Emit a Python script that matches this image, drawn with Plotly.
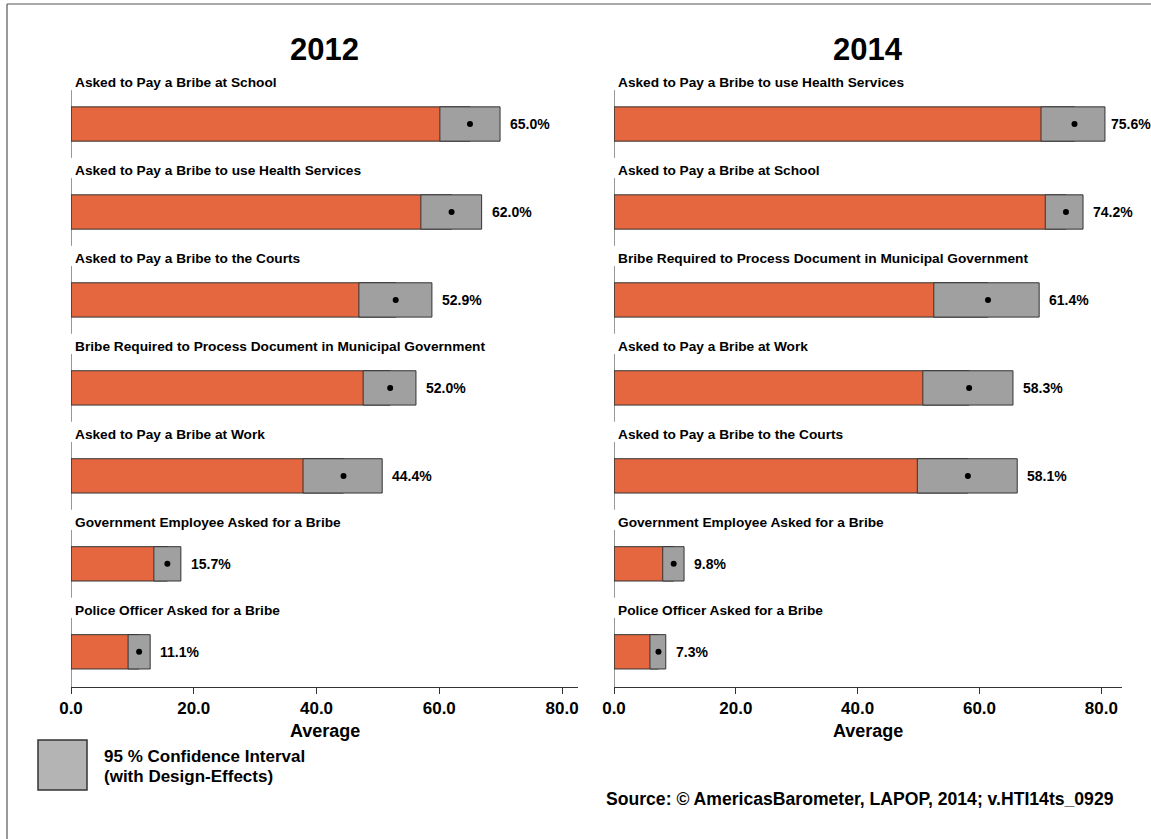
import plotly.graph_objects as go

W, H = 1151, 839

# ---------------- data ----------------
labels_2012 = [
    "Asked to Pay a Bribe at School",
    "Asked to Pay a Bribe to use Health Services",
    "Asked to Pay a Bribe to the Courts",
    "Bribe Required to Process Document in Municipal Government",
    "Asked to Pay a Bribe at Work",
    "Government Employee Asked for a Bribe",
    "Police Officer Asked for a Bribe",
]
mean_2012 = [65.0, 62.0, 52.9, 52.0, 44.4, 15.7, 11.1]
lower_2012 = [60.1, 57.0, 46.9, 47.6, 37.8, 13.5, 9.3]
upper_2012 = [69.9, 66.9, 58.8, 56.2, 50.7, 17.9, 12.9]

labels_2014 = [
    "Asked to Pay a Bribe to use Health Services",
    "Asked to Pay a Bribe at School",
    "Bribe Required to Process Document in Municipal Government",
    "Asked to Pay a Bribe at Work",
    "Asked to Pay a Bribe to the Courts",
    "Government Employee Asked for a Bribe",
    "Police Officer Asked for a Bribe",
]
mean_2014 = [75.6, 74.2, 61.4, 58.3, 58.1, 9.8, 7.3]
lower_2014 = [70.1, 70.8, 52.5, 50.7, 49.8, 8.0, 5.9]
upper_2014 = [80.6, 77.0, 69.8, 65.5, 66.2, 11.5, 8.5]

tick_vals = [0, 20, 40, 60, 80]
tick_text = ["0.0", "20.0", "40.0", "60.0", "80.0"]
panel_titles = ["2012", "2014"]
axis_title = "Average"
legend_lines = ["95 % Confidence Interval", "(with Design-Effects)"]
source_text = "Source: \u00a9 AmericasBarometer, LAPOP, 2014; v.HTI14ts_0929"

# ---------------- style ----------------
ORANGE = "#E5673F"
CI_GRAY = "#A0A0A0"
LEG_GRAY = "#B4B4B4"
EDGE = "#333333"
FONT = "Liberation Sans, Arial, sans-serif"
BAR_W = 0.39
VAL_SIZE = 14
VAL_W_EST = 2.835 * VAL_SIZE  # approx width of a "nn.n%" label in px


def px(x):
    return x / W


def py(y):
    return 1 - y / H


panels = [
    dict(labels=labels_2012, mean=mean_2012, lo=lower_2012, hi=upper_2012,
         xa="x", ya="y", pix=[71, 578], rng=[0, 82.6], title=panel_titles[0]),
    dict(labels=labels_2014, mean=mean_2014, lo=lower_2014, hi=upper_2014,
         xa="x2", ya="y2", pix=[614, 1122], rng=[0, 83.4], title=panel_titles[1]),
]

y_dom = [py(687), py(70)]
y_rng = [6.40, -0.614]

fig = go.Figure()
annotations = []
shapes = []

for p in panels:
    p["dom"] = [px(p["pix"][0]), px(p["pix"][1])]
    scale = (p["pix"][1] - p["pix"][0]) / (p["rng"][1] - p["rng"][0])
    n = len(p["labels"])
    rows = list(range(n))
    fig.add_trace(go.Bar(
        x=p["mean"], y=rows, base=0, orientation="h", width=BAR_W,
        marker=dict(color=ORANGE, line=dict(color=EDGE, width=1)),
        xaxis=p["xa"], yaxis=p["ya"], showlegend=False, hoverinfo="skip"))
    fig.add_trace(go.Bar(
        x=[h - l for h, l in zip(p["hi"], p["lo"])], y=rows, base=p["lo"],
        orientation="h", width=BAR_W,
        marker=dict(color=CI_GRAY, line=dict(color=EDGE, width=1)),
        xaxis=p["xa"], yaxis=p["ya"], showlegend=False, hoverinfo="skip"))
    fig.add_trace(go.Scatter(
        x=p["mean"], y=rows, mode="markers",
        marker=dict(color="black", size=6),
        xaxis=p["xa"], yaxis=p["ya"], showlegend=False, hoverinfo="skip"))

    for i in rows:
        annotations.append(dict(
            x=0, y=i - 0.475, xref=p["xa"], yref=p["ya"], xanchor="left",
            yanchor="middle", xshift=2, showarrow=False,
            text="<b>%s</b>" % p["labels"][i],
            font=dict(family=FONT, size=13.7, color="black")))
        # keep value label inside the page
        end_px = p["pix"][0] + p["hi"][i] * scale
        shift = min(8, W - 2 - end_px - VAL_W_EST)
        annotations.append(dict(
            x=p["hi"][i], y=i, xref=p["xa"], yref=p["ya"], xanchor="left",
            yanchor="middle", xshift=shift, showarrow=False,
            text="<b>%.1f%%</b>" % p["mean"][i],
            font=dict(family=FONT, size=VAL_SIZE, color="black")))
        y1 = y_rng[0] if i == n - 1 else i + 0.385
        shapes.append(dict(type="line", xref=p["xa"], yref=p["ya"],
                           x0=0, x1=0, y0=i - 0.385, y1=y1,
                           line=dict(color=EDGE, width=1)))

    cx = (p["dom"][0] + p["dom"][1]) / 2
    annotations.append(dict(
        x=cx, y=py(50), xref="paper", yref="paper", xanchor="center",
        yanchor="middle", showarrow=False, text="<b>%s</b>" % p["title"],
        font=dict(family=FONT, size=31, color="black")))
    annotations.append(dict(
        x=cx, y=py(731), xref="paper", yref="paper", xanchor="center",
        yanchor="middle", showarrow=False, text="<b>%s</b>" % axis_title,
        font=dict(family=FONT, size=18, color="black")))

# legend box
shapes.append(dict(type="rect", xref="paper", yref="paper",
                   x0=px(38), x1=px(87), y0=py(790), y1=py(740),
                   fillcolor=LEG_GRAY, line=dict(color=EDGE, width=1.5)))
for line, yc in zip(legend_lines, [756, 776]):
    annotations.append(dict(
        x=px(102), y=py(yc), xref="paper", yref="paper", xanchor="left",
        yanchor="middle", showarrow=False, align="left",
        text="<b>%s</b>" % line,
        font=dict(family=FONT, size=17, color="black")))

# source
annotations.append(dict(
    x=px(604), y=py(799), xref="paper", yref="paper", xanchor="left",
    yanchor="middle", showarrow=False, text="<b>%s</b>" % source_text,
    font=dict(family=FONT, size=17.6, color="black")))

# outer frame (left and top edges visible)
shapes.append(dict(type="line", xref="paper", yref="paper",
                   x0=px(7), x1=px(7), y0=py(4), y1=py(900),
                   line=dict(color="#555555", width=1.2)))
shapes.append(dict(type="line", xref="paper", yref="paper",
                   x0=px(7), x1=px(1200), y0=py(4), y1=py(4),
                   line=dict(color="#555555", width=1.2)))

axis_common = dict(
    showgrid=False, zeroline=False, showline=True, linecolor=EDGE, linewidth=1,
    ticks="outside", ticklen=6, tickcolor=EDGE, tickvals=tick_vals,
    ticktext=tick_text,
    tickfont=dict(family=FONT, size=17, color="black", weight="bold"),
    fixedrange=True, automargin=False)
yaxis_common = dict(
    showgrid=False, zeroline=False, showline=False, showticklabels=False,
    ticks="", domain=y_dom, range=y_rng, fixedrange=True, automargin=False)

fig.update_layout(
    width=W, height=H,
    margin=dict(l=0, r=0, t=0, b=0, pad=0, autoexpand=False),
    paper_bgcolor="white", plot_bgcolor="white",
    barmode="overlay",
    xaxis=dict(domain=panels[0]["dom"], range=panels[0]["rng"], anchor="y", **axis_common),
    xaxis2=dict(domain=panels[1]["dom"], range=panels[1]["rng"], anchor="y2", **axis_common),
    yaxis=dict(anchor="x", **yaxis_common),
    yaxis2=dict(anchor="x2", **yaxis_common),
    annotations=annotations,
    shapes=shapes,
    showlegend=False,
)

fig.write_html(
    "out.html",
    config={"displayModeBar": False, "staticPlot": True},
    post_script="document.body.style.margin='0';document.body.style.overflow='hidden';",
)
